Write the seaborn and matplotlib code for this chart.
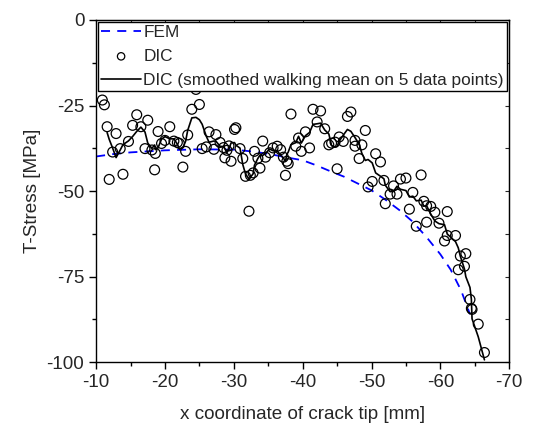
import numpy as np
import pandas as pd
import matplotlib
matplotlib.use("Agg")
import matplotlib.pyplot as plt
import seaborn as sns
from matplotlib.ticker import MultipleLocator

# --- FEM curve ---
fem_x = [-10, -12.5, -15, -20, -25, -30, -33, -36, -38, -40, -42, -44, -46, -48,
         -50, -52, -54, -56, -58, -60, -61.5, -63, -64.3]
fem_y = [-39.9, -39.2, -38.7, -38.1, -37.8, -37.9, -38.5, -39.5, -40.3, -41.0, -42.5,
         -44.2, -45.8, -47.8, -49.8, -52.5, -55.5, -59.0, -63.5, -68.5, -73.0, -79.0, -86.0]

# --- DIC points (last two lie below the axis and are clipped) ---
dic_x = [-10.9, -11.2, -11.6, -11.9, -12.4, -12.9, -13.5, -13.9, -14.7, -15.3,
         -15.9, -16.5, -17.1, -17.5, -18.1, -18.5, -18.6, -19.0, -19.5, -20.0,
         -20.7, -21.3, -21.8, -22.1, -22.6, -23.0, -23.3, -23.9, -24.5, -25.0,
         -25.4, -26.0, -26.4, -27.1, -27.4, -28.0, -28.5, -28.7, -29.0, -29.3,
         -29.6, -30.1, -30.3, -30.9, -31.3, -31.7, -32.2, -32.4, -32.8, -33.0,
         -33.5, -33.8, -34.2, -34.6, -35.2, -35.7, -36.3, -36.8, -37.2, -37.5,
         -37.7, -37.9, -38.3, -39.0, -39.4, -39.8, -40.4, -41.0, -41.5, -42.1,
         -42.6, -43.2, -43.8, -44.2, -44.7, -45.0, -45.3, -45.9, -46.5, -47.0,
         -47.6, -47.6, -48.2, -48.6, -49.1, -49.5, -50.1, -50.6, -51.3, -51.8,
         -52.0, -52.7, -53.2, -53.7, -54.2, -55.0, -55.5, -56.0, -56.5, -57.2,
         -57.6, -58.0, -58.0, -58.6, -59.2, -59.8, -60.6, -61.0, -61.0, -62.2,
         -62.6, -62.9, -63.5, -63.7, -64.3, -64.5, -64.6, -65.5, -66.4,
         -67.0, -67.6]
dic_y = [-23.4, -24.8, -31.2, -46.6, -38.6, -33.2, -37.6, -45.1, -35.5, -30.8,
         -27.7, -31.2, -37.6, -29.3, -38.0, -43.8, -39.0, -32.6, -36.1, -35.2,
         -31.2, -35.4, -35.8, -36.1, -43.0, -38.4, -33.6, -26.1, -20.3, -24.7,
         -37.6, -37.1, -32.7, -37.8, -33.5, -35.8, -37.3, -40.3, -38.1, -36.8,
         -41.3, -32.0, -31.5, -37.6, -40.5, -45.7, -55.9, -45.4, -44.7, -38.4,
         -40.4, -43.3, -35.4, -40.1, -38.8, -37.4, -36.9, -37.9, -40.1, -45.4,
         -41.3, -42.0, -27.5, -36.9, -34.5, -38.4, -32.7, -37.4, -26.1, -29.8,
         -26.6, -31.8, -36.5, -36.0, -35.7, -43.5, -34.2, -35.5, -28.2, -26.9,
         -35.2, -36.9, -40.5, -36.5, -32.3, -48.8, -47.2, -39.1, -41.5, -46.9,
         -53.7, -50.9, -48.5, -50.9, -46.5, -46.2, -55.3, -50.4, -60.3, -45.3,
         -53.0, -54.3, -59.1, -54.5, -56.2, -59.4, -64.6, -63.0, -56.0, -63.0,
         -73.0, -69.0, -72.0, -68.3, -81.7, -84.3, -84.6, -88.9, -97.2,
         -108.0, -118.0]

fem = pd.DataFrame({"x": fem_x, "y": fem_y})
dic = pd.DataFrame({"x": dic_x, "y": dic_y})
# walking mean on 5 data points
smooth = dic.copy()
smooth["y"] = dic["y"].rolling(5, center=True).mean()
smooth = smooth.dropna()

sns.set_style("ticks")
plt.rcParams["font.family"] = ["Liberation Sans", "DejaVu Sans"]
plt.rcParams["axes.unicode_minus"] = False

fig = plt.figure(figsize=(5.4, 4.25), dpi=100)
ax = fig.add_axes([0.178, 0.148, 0.765, 0.805])

sns.lineplot(data=fem, x="x", y="y", ax=ax, color="#0000ff", lw=1.3,
             dashes=False, linestyle=(0, (5, 4)), label="FEM", sort=False)
sns.scatterplot(data=dic, x="x", y="y", ax=ax, marker="o", s=50,
                facecolors="none", edgecolor="black", linewidth=0.9,
                label="DIC", zorder=3)
sns.lineplot(data=smooth, x="x", y="y", ax=ax, color="black", lw=1.2,
             label="DIC (smoothed walking mean on 5 data points)", sort=False)

ax.set_xlim(-10, -70)
ax.set_ylim(-100, 0)
ax.xaxis.set_major_locator(MultipleLocator(10))
ax.xaxis.set_minor_locator(MultipleLocator(5))
ax.yaxis.set_major_locator(MultipleLocator(25))
ax.yaxis.set_minor_locator(MultipleLocator(12.5))
ax.tick_params(which="both", direction="out", labelsize=13.5, width=1, color="black")
ax.tick_params(which="major", length=5)
ax.tick_params(which="minor", length=3)

top = ax.secondary_xaxis("top")
top.xaxis.set_major_locator(MultipleLocator(5))
top.tick_params(direction="in", length=3, labeltop=False)
right = ax.secondary_yaxis("right")
right.yaxis.set_major_locator(MultipleLocator(12.5))
right.tick_params(direction="in", length=3, labelright=False)

for s in ax.spines.values():
    s.set_color("black")
    s.set_linewidth(1)

ax.set_xlabel("x coordinate of crack tip [mm]", fontsize=13.6, labelpad=11)
ax.set_ylabel("T-Stress [MPa]", fontsize=13.6, labelpad=4)

leg = ax.legend(loc="upper left", fontsize=12.4, frameon=True, fancybox=False,
                edgecolor="black", framealpha=1, borderpad=0.2,
                labelspacing=0.5, handlelength=2.3, handletextpad=0.15,
                borderaxespad=0.1, markerscale=0.75)
leg.get_frame().set_linewidth(1)

fig.savefig("out.png", dpi=100)
